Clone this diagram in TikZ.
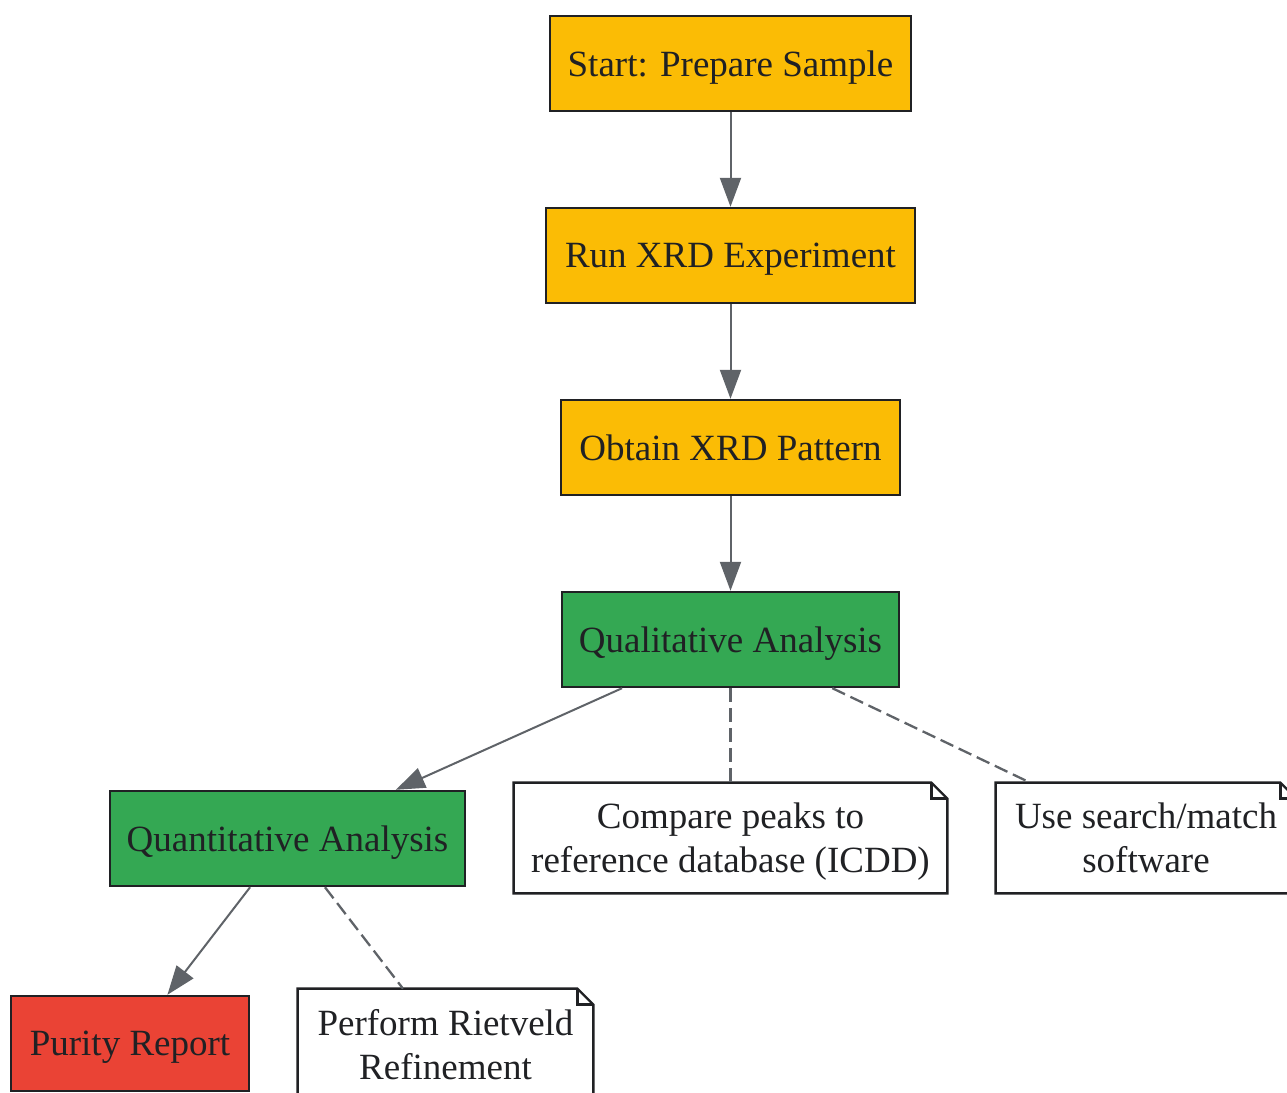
\documentclass[tikz,border=0pt]{standalone}
\usepackage{fontspec}
\setmainfont{Liberation Serif}
\usetikzlibrary{arrows.meta}

\definecolor{stepyellow}{HTML}{FBBC05}
\definecolor{stepgreen}{HTML}{34A853}
\definecolor{stepred}{HTML}{EA4335}
\definecolor{ink}{HTML}{202124}
\definecolor{wire}{HTML}{5F6368}

\tikzset{
  box/.style={draw=ink, line width=1.2pt, text=ink, inner sep=0pt, text depth=0pt,
    minimum height=47.5pt, font=\fontsize{18.5}{22}\selectfont},
  note/.style={fill=white, text=ink, inner sep=0pt, text depth=0pt, minimum height=55pt,
    align=center, font=\fontsize{18.5}{22}\selectfont},
  notefold/.style={draw=ink, line width=1.2pt, line join=miter},
  flow/.style={draw=wire, line width=1pt, -{Triangle[length=14.5pt,width=10.5pt]}},
  link/.style={draw=wire, line width=1.15pt, dash pattern=on 7pt off 3pt}
}

\begin{document}
\begin{tikzpicture}[x=0.5pt,y=-0.5pt]
\clip (0,0) rectangle (1287,1093);
% main chain
\node[box, fill=stepyellow, minimum width=180.5pt] (start) at (730.5,63.5) {Start: Prepare Sample};
\node[box, fill=stepyellow, minimum width=184.5pt] (run) at (730.5,255.5) {Run XRD Experiment};
\node[box, fill=stepyellow, minimum width=169.5pt] (obtain) at (730.5,447.5) {Obtain XRD Pattern};
\node[box, fill=stepgreen, minimum width=168.5pt] (qual) at (730.5,639.5) {Qualitative Analysis};
\node[box, fill=stepgreen, minimum width=177.5pt] (quant) at (287.5,838.5) {Quantitative Analysis};
\node[box, fill=stepred, minimum width=119pt] (purity) at (130,1043.5) {Purity Report};
% notes
\node[note, minimum width=216.5pt] (compare) at (730.5,838) {Compare peaks to\\reference database (ICDD)};
\node[note, minimum width=150pt] (search) at (1146,838) {Use search/match\\software};
\node[note, minimum width=147.5pt] (rietveld) at (445.5,1044) {Perform Rietveld\\Refinement};
\foreach \n in {compare,search,rietveld} {
  \draw[notefold] (\n.south west) -- (\n.north west) -- ([xshift=-8pt]\n.north east)
    -- ([yshift=-8pt]\n.north east) -- (\n.south east) -- cycle;
  \draw[notefold] ([xshift=-8pt]\n.north east) |- ([yshift=-8pt]\n.north east);
}
% connectors
\draw[flow] (start) -- (run);
\draw[flow] (run) -- (obtain);
\draw[flow] (obtain) -- (qual);
\draw[flow] (qual) -- (quant);
\draw[flow] (quant) -- (purity);
\draw[link] (qual) -- (compare);
\draw[link] (qual) -- (search);
\draw[link] (quant) -- (rietveld);
\end{tikzpicture}
\end{document}
